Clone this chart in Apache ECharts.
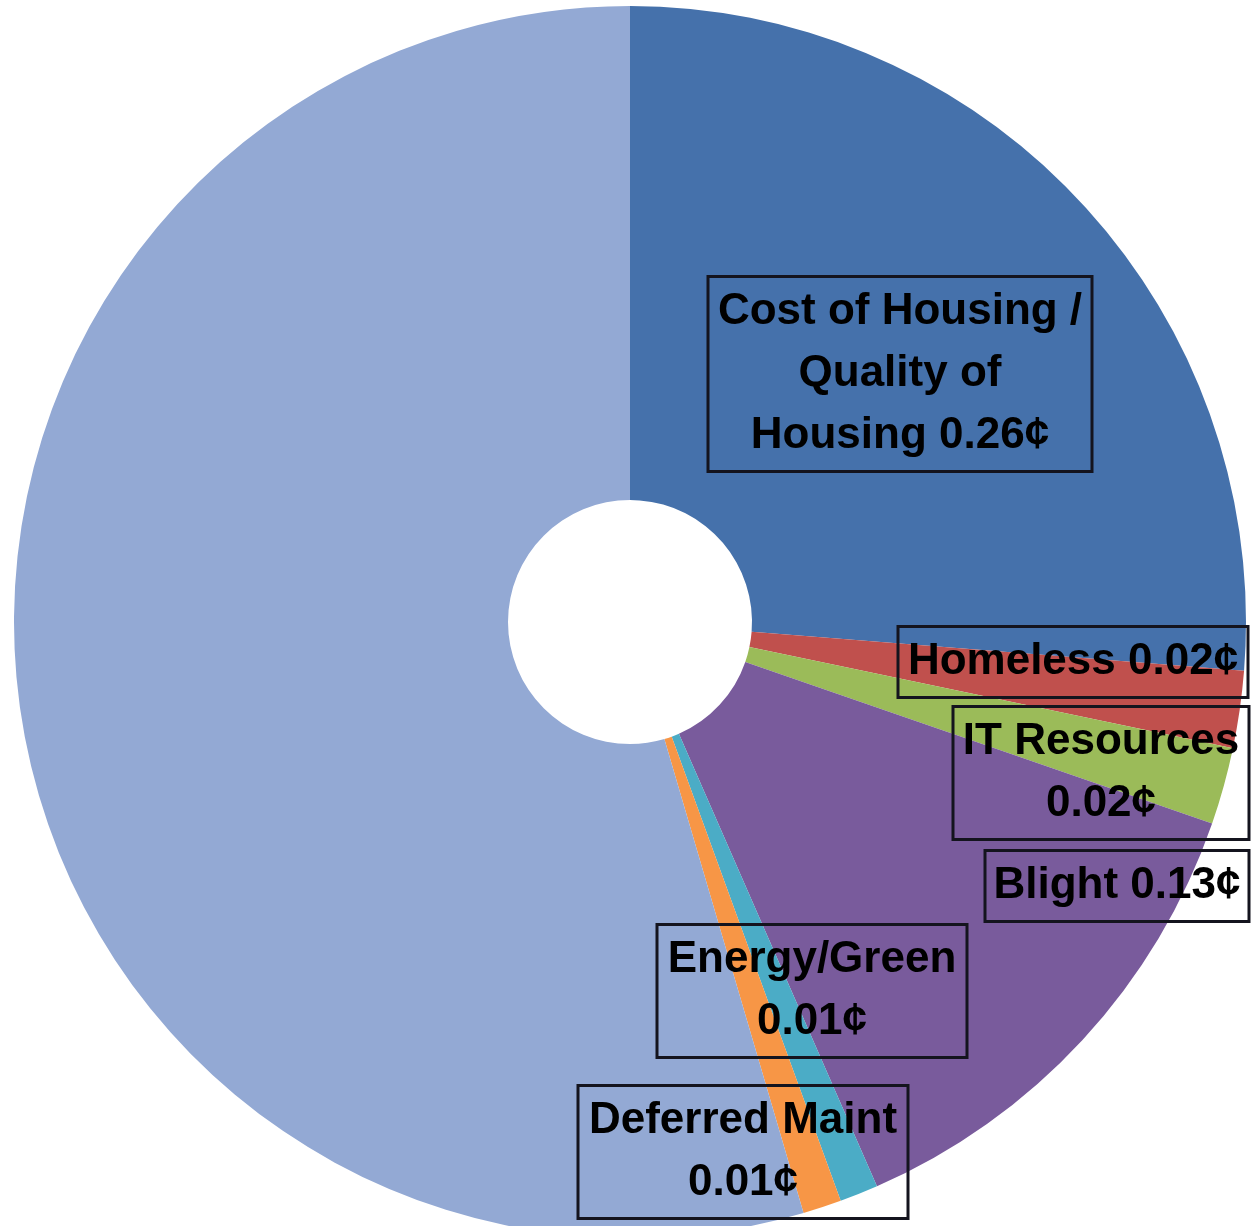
<!DOCTYPE html>
<html>
<head>
<meta charset="utf-8">
<script src="https://cdn.jsdelivr.net/npm/echarts@6/dist/echarts.min.js"></script>
<style>
  html, body { margin: 0; padding: 0; background: #ffffff; }
  #chart { width: 1251px; height: 1226px; }
</style>
</head>
<body>
<div id="chart"></div>
<script>
// Share of each dollar (in cents) by category
const categories = [
  'Cost of Housing / Quality of Housing',
  'Homeless',
  'IT Resources',
  'Blight',
  'Energy/Green',
  'Deferred Maint',
  'Other'
];
const values = [0.26, 0.02, 0.02, 0.13, 0.01, 0.01, 0.54];

// Text lines shown in each label box (value appended to the last line)
const labelLines = [
  ['Cost of Housing /', 'Quality of', 'Housing'],
  ['Homeless'],
  ['IT Resources', ''],
  ['Blight'],
  ['Energy/Green', ''],
  ['Deferred Maint', ''],
  null
];

const colors = ['#4571ab', '#c0504d', '#9bbb59', '#795b9c', '#4bacc6', '#f79646', '#93a9d4'];

// Label box centres and widths (px)
const labelBoxes = [
  { x: 900, y: 374, w: 384 },
  { x: 1073, y: 662, w: 350 },
  { x: 1101, y: 773, w: 296 },
  { x: 1117, y: 886, w: 264 },
  { x: 812, y: 991, w: 310 },
  { x: 743, y: 1152, w: 330 },
  null
];

function labelText(i) {
  if (!labelLines[i]) return '';
  const lines = labelLines[i].slice();
  const v = values[i].toFixed(2) + '\u00a2';
  const last = lines.length - 1;
  lines[last] = lines[last] ? lines[last] + ' ' + v : v;
  return lines.join('\n');
}

const data = categories.map((name, i) => {
  const item = {
    name: name,
    value: values[i],
    itemStyle: { color: colors[i] }
  };
  if (labelBoxes[i]) {
    item.label = {
      show: true,
      width: labelBoxes[i].w
    };
  } else {
    item.label = { show: false };
  }
  return item;
});

const chart = echarts.init(document.getElementById('chart'), null, { renderer: 'canvas' });
chart.setOption({
  backgroundColor: '#ffffff',
  animation: false,
  series: [{
    type: 'pie',
    center: [630, 622],
    radius: [122, 616],
    startAngle: 90,
    clockwise: true,
    avoidLabelOverlap: false,
    itemStyle: { borderWidth: 0 },
    emphasis: { disabled: true },
    labelLine: { show: false },
    label: {
      position: 'inside',
      formatter: p => labelText(p.dataIndex),
      fontFamily: 'Liberation Sans, Arial, sans-serif',
      fontWeight: 'bold',
      fontSize: 44,
      lineHeight: 62,
      color: '#000000',
      align: 'center',
      verticalAlign: 'middle',
      borderColor: '#14141e',
      borderWidth: 3,
      padding: [8, 0, 1, 0],
      overflow: 'none'
    },
    labelLayout: function (params) {
      const b = labelBoxes[params.dataIndex];
      if (!b) return {};
      return { x: b.x, y: b.y, align: 'center', verticalAlign: 'middle' };
    },
    data: data
  }]
});
</script>
</body>
</html>
